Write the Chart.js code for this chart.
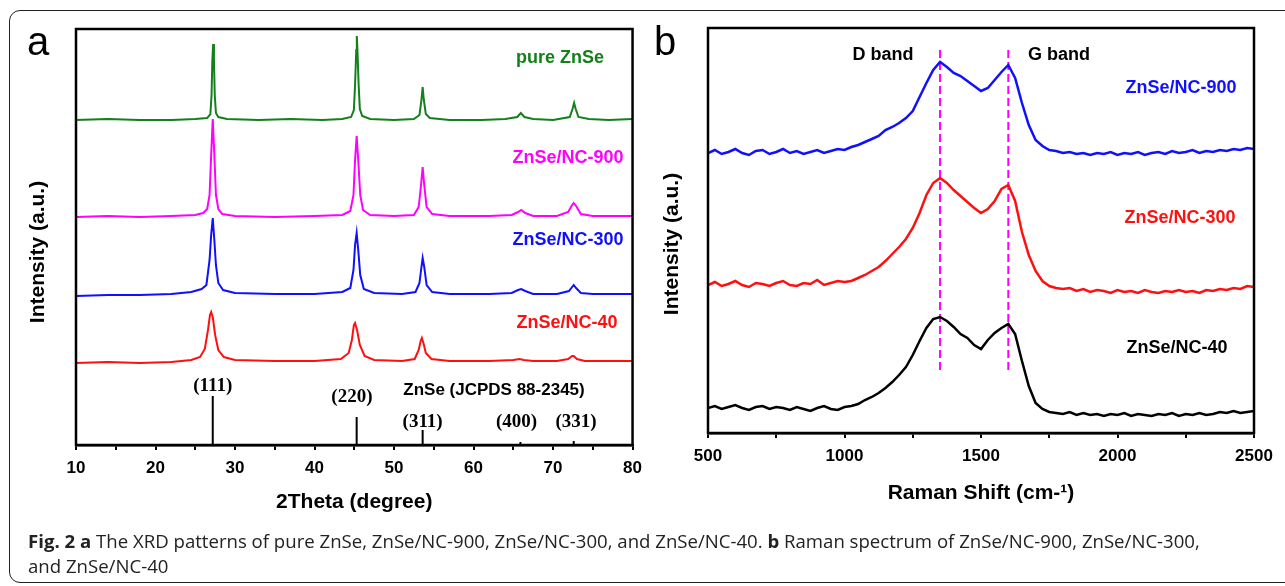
<!DOCTYPE html>
<html>
<head>
<meta charset="utf-8">
<script src="https://cdn.jsdelivr.net/npm/chart.js@4.4.1/dist/chart.umd.min.js"></script>
<style>
  body { margin: 0; background: #fff; width: 1285px; height: 586px; overflow: hidden; position: relative; }
  #frame { position: absolute; left: 9px; top: 10px; width: 1300px; height: 571px; border: 1.5px solid #222; border-radius: 11px; }
  #wrapA { position: absolute; left: 0; top: 0; width: 650px; height: 530px; }
  #wrapB { position: absolute; left: 650px; top: 0; width: 635px; height: 530px; }
  .panel { position: absolute; top: 21px; font: 40px "Liberation Sans", Arial, sans-serif; line-height: 1; color: #000; }
  #caption { position: absolute; left: 28px; top: 528px; font: 18.6px "Open Sans", "Noto Sans", sans-serif; line-height: 25px; color: #222; white-space: nowrap; }
</style>
</head>
<body>
<div id="frame"></div>
<div id="wrapA"><canvas id="xrdChart" width="650" height="530"></canvas></div>
<div id="wrapB"><canvas id="ramanChart" width="635" height="530"></canvas></div>
<div class="panel" style="left:27px">a</div>
<div class="panel" style="left:654px">b</div>
<div id="caption"><b>Fig. 2 a</b> The XRD patterns of pure ZnSe, ZnSe/NC-900, ZnSe/NC-300, and ZnSe/NC-40. <b>b</b> Raman spectrum of ZnSe/NC-900, ZnSe/NC-300,<br>and ZnSe/NC-40</div>

<script>
// ---- panel a: XRD patterns (stacked, arbitrary units) ----
const pureX = [10, 14, 18, 22, 25, 26.5, 26.9, 27.05, 27.15, 27.25, 27.35, 27.45, 27.6, 27.9, 29, 33, 37, 41, 43.5, 44.6, 44.95, 45.1, 45.25, 45.32, 45.4, 45.55, 45.7, 46, 47, 50, 52.5, 53.2, 53.45, 53.6, 53.75, 54, 54.5, 57, 61, 64, 65.5, 65.95, 66.4, 67.5, 70, 72.1, 72.45, 72.65, 72.85, 73.2, 74.5, 77, 80];
const pureY = [325, 326, 325, 325, 326, 327, 331, 350, 385, 401, 385, 350, 332, 328, 326, 325, 326, 325, 326, 328, 335, 360, 395, 409, 395, 360, 336, 329, 326, 325, 326, 330, 345, 358, 345, 331, 327, 325, 325, 326, 328, 332, 328, 326, 325, 328, 336, 342, 336, 328, 326, 325, 326];

const nc900X = [10, 14, 18, 22, 25, 26.0, 26.5, 26.8, 27.0, 27.2, 27.4, 27.6, 27.9, 28.4, 30, 35, 40, 43.5, 44.5, 44.9, 45.1, 45.3, 45.5, 45.75, 46.1, 47, 50, 52.5, 53.1, 53.4, 53.6, 53.8, 54.1, 54.8, 57, 62, 64.8, 65.6, 66, 66.5, 67.5, 70.5, 71.9, 72.4, 72.6, 72.9, 73.5, 75, 80];
const nc900Y = [228, 229, 228, 229, 230, 232, 236, 250, 290, 326, 290, 250, 236, 231, 229, 228, 229, 230, 234, 250, 285, 309, 285, 250, 235, 230, 229, 230, 238, 260, 278, 260, 238, 231, 229, 229, 230, 233, 235, 232, 229, 229, 233, 240, 242, 239, 231, 229, 229];

const nc300X = [10, 14, 18, 22, 24.5, 25.8, 26.4, 26.8, 27.0, 27.2, 27.4, 27.6, 27.9, 28.5, 30, 35, 40, 43.5, 44.5, 44.9, 45.1, 45.3, 45.5, 45.75, 46.2, 47.5, 51, 52.7, 53.2, 53.45, 53.6, 53.8, 54.1, 54.8, 57, 62, 64.8, 65.6, 66, 66.5, 67.5, 70.5, 72.0, 72.4, 72.6, 72.9, 73.5, 75, 80];
const nc300Y = [149, 150, 150, 151, 153, 156, 160, 185, 210, 227, 205, 180, 162, 155, 152, 151, 151, 153, 157, 175, 200, 212, 195, 170, 156, 152, 151, 153, 162, 178, 187, 178, 160, 153, 151, 151, 152, 155, 156, 154, 151, 151, 154, 158, 160, 157, 152, 151, 151];

const nc40X = [10, 14, 18, 22, 24.5, 25.6, 26.2, 26.6, 26.85, 27.0, 27.2, 27.5, 27.9, 28.6, 30, 35, 40, 43.3, 44.3, 44.7, 44.95, 45.1, 45.35, 45.7, 46.3, 47.5, 51, 52.6, 53.1, 53.35, 53.5, 53.7, 54.0, 54.7, 57, 62, 65, 65.8, 66.3, 67.5, 70.5, 71.9, 72.4, 72.6, 73.0, 74, 80];
const nc40Y = [82, 83, 82, 83, 85, 88, 96, 115, 130, 133, 128, 110, 95, 88, 85, 84, 84, 86, 92, 105, 120, 122, 115, 100, 89, 85, 84, 86, 95, 104, 107, 102, 92, 86, 84, 84, 85, 86, 85, 84, 84, 86, 89, 89, 86, 84, 84];

// reference pattern ZnSe (JCPDS 88-2345)
const jcpdsPos = [27.2, 45.3, 53.6, 65.9, 72.6];
const jcpdsInt = [49, 28, 15, 3, 4];
const jcpdsHkl = ["(111)", "(220)", "(311)", "(400)", "(331)"];

// ---- panel b: Raman spectra ----
const ramanShift = [500, 525, 550, 575, 600, 625, 650, 675, 700, 725, 750, 775, 800, 825, 850, 875, 900, 925, 950, 975,
  1000, 1025, 1050, 1075, 1100, 1125, 1150, 1175, 1200, 1225, 1250, 1275, 1300, 1325, 1350, 1375, 1400, 1425, 1450, 1475,
  1500, 1525, 1550, 1575, 1600, 1625, 1650, 1675, 1700, 1725, 1750, 1775, 1800, 1825, 1850, 1875, 1900, 1925, 1950, 1975,
  2000, 2025, 2050, 2075, 2100, 2125, 2150, 2175, 2200, 2225, 2250, 2275, 2300, 2325, 2350, 2375, 2400, 2425, 2450, 2475, 2500];
const raman900 = [280, 283, 279, 281, 284, 280, 278, 282, 283, 279, 281, 284, 280, 282, 279, 281, 283, 280, 282, 284,
  283, 286, 288, 291, 294, 297, 303, 306, 310, 315, 322, 336, 350, 363, 371, 366, 360, 357, 352, 347,
  342, 345, 353, 361, 368, 355, 330, 308, 293, 287, 283, 282, 280, 281, 279, 280, 278, 280, 279, 281,
  278, 280, 279, 281, 278, 280, 281, 279, 282, 280, 281, 283, 280, 282, 281, 283, 282, 284, 283, 285, 284];
const raman300 = [148, 151, 147, 149, 152, 148, 146, 150, 149, 147, 150, 152, 148, 147, 150, 149, 153, 148, 150, 152,
  151, 152, 155, 158, 162, 166, 172, 179, 186, 194, 205, 220, 238, 250, 255, 250, 243, 237, 231, 225,
  220, 224, 232, 244, 248, 232, 201, 178, 162, 152, 147, 145, 144, 145, 142, 144, 141, 143, 142, 140,
  143, 141, 142, 140, 143, 141, 140, 142, 141, 143, 141, 142, 140, 143, 142, 144, 143, 145, 144, 147, 146];
const raman40 = [25, 27, 24, 26, 28, 25, 23, 26, 27, 24, 26, 25, 23, 26, 24, 22, 25, 27, 24, 23,
  26, 27, 29, 33, 36, 40, 45, 51, 58, 66, 78, 92, 105, 114, 116, 112, 106, 99, 95, 88,
  84, 93, 100, 105, 109, 99, 72, 47, 30, 24, 21, 20, 19, 21, 18, 20, 18, 19, 17, 19,
  18, 20, 17, 19, 18, 17, 19, 18, 20, 17, 19, 18, 20, 18, 19, 21, 20, 22, 20, 21, 22];
const bandPos = [1350, 1600];
const bandSpan = [63, 385];

const SANS = "'Liberation Sans', Arial, sans-serif";
const toPts = (xs, ys) => xs.map((x, i) => ({ x: x, y: ys[i] }));
const line = (data, color, extra) => Object.assign({ data: data, borderColor: color, borderWidth: 2, pointRadius: 0, tension: 0, fill: false }, extra || {});

// draws the plot box, in-plot labels and the rotated y title
const decor = {
  id: "decor",
  afterDraw(chart, args, opts) {
    const { ctx, chartArea: a } = chart;
    ctx.save();
    ctx.strokeStyle = "#000";
    ctx.lineWidth = 2.5;
    ctx.strokeRect(a.left, a.top, a.right - a.left, a.bottom - a.top);
    ctx.textAlign = "center";
    ctx.textBaseline = "middle";
    for (const t of opts.texts) {
      ctx.font = t.font;
      ctx.fillStyle = t.color;
      const x = t.xv !== undefined ? chart.scales.x.getPixelForValue(t.xv) : t.x;
      ctx.fillText(t.text, x, t.y);
    }
    ctx.translate(opts.yTitle.x, opts.yTitle.y);
    ctx.rotate(-Math.PI / 2);
    ctx.font = "bold 21px " + SANS;
    ctx.fillStyle = "#000";
    ctx.fillText("Intensity (a.u.)", 0, 0);
    ctx.restore();
  }
};

function xScale(min, max, step, major, title, height, titlePad) {
  return {
    type: "linear", min: min, max: max,
    afterFit: s => { s.height = height; },
    ticks: {
      stepSize: step, autoSkip: false, maxRotation: 0, padding: 8, color: "#000",
      font: { family: SANS, size: 17, weight: "bold" },
      callback: v => (v % major === 0 ? v : "")
    },
    grid: { drawOnChartArea: false, drawTicks: true, tickLength: 5, color: "#000", lineWidth: 2 },
    border: { display: true, color: "#000", width: 2.5 },
    title: { display: true, text: title, color: "#000", padding: { top: 0, bottom: titlePad }, font: { family: SANS, size: 21, weight: "bold" } }
  };
}

const common = {
  responsive: false,
  animation: false,
  plugins: { legend: { display: false }, tooltip: { enabled: false } }
};

const hklTexts = jcpdsHkl.map((h, i) => ({
  text: h, xv: jcpdsPos[i] + [0, -0.6, 0, -0.5, 0.3][i], y: [386, 397, 422, 422, 422][i],
  font: "bold 19px 'Liberation Serif', 'Times New Roman', serif", color: "#000"
}));

new Chart(document.getElementById("xrdChart").getContext("2d"), {
  type: "line",
  data: {
    datasets: [
      line(toPts(pureX, pureY), "#13801a"),
      line(toPts(nc900X, nc900Y), "#ff00ff"),
      line(toPts(nc300X, nc300Y), "#1010ff"),
      line(toPts(nc40X, nc40Y), "#ff1010"),
      line(jcpdsPos.flatMap((p, i) => [{ x: p, y: 0 }, { x: p, y: jcpdsInt[i] }, { x: p, y: null }]), "#000", { spanGaps: false })
    ]
  },
  options: Object.assign({}, common, {
    layout: { padding: { left: 76, top: 29, right: 13, bottom: 0 } },
    scales: {
      x: xScale(10, 80, 5, 10, "2Theta (degree)", 85, 15),
      y: { display: false, min: 0, max: 416 }
    },
    plugins: Object.assign({}, common.plugins, {
      decor: {
        yTitle: { x: 38, y: 252 },
        texts: [
          { text: "pure ZnSe", x: 560, y: 58, font: "bold 18px " + SANS, color: "#13801a" },
          { text: "ZnSe/NC-900", x: 568, y: 158, font: "bold 18px " + SANS, color: "#ff00ff" },
          { text: "ZnSe/NC-300", x: 568, y: 240, font: "bold 18px " + SANS, color: "#1010ff" },
          { text: "ZnSe/NC-40", x: 567, y: 323, font: "bold 18px " + SANS, color: "#ff1010" },
          { text: "ZnSe (JCPDS 88-2345)", x: 494, y: 390, font: "bold 17px " + SANS, color: "#000" }
        ].concat(hklTexts)
      }
    })
  }),
  plugins: [decor]
});

new Chart(document.getElementById("ramanChart").getContext("2d"), {
  type: "line",
  data: {
    datasets: [
      line(toPts(ramanShift, raman900), "#1010ff", { borderWidth: 2.5 }),
      line(toPts(ramanShift, raman300), "#ff1010", { borderWidth: 2.5 }),
      line(toPts(ramanShift, raman40), "#000", { borderWidth: 2.5 }),
      line([{ x: bandPos[0], y: bandSpan[0] }, { x: bandPos[0], y: bandSpan[1] }], "#ff00ff", { borderDash: [8, 4] }),
      line([{ x: bandPos[1], y: bandSpan[0] }, { x: bandPos[1], y: bandSpan[1] }], "#ff00ff", { borderDash: [8, 4] })
    ]
  },
  options: Object.assign({}, common, {
    layout: { padding: { left: 58, top: 28, right: 31, bottom: 0 } },
    scales: {
      x: xScale(500, 2500, 250, 500, "Raman Shift (cm-¹)", 97, 24),
      y: { display: false, min: 0, max: 405 }
    },
    plugins: Object.assign({}, common.plugins, {
      decor: {
        yTitle: { x: 22, y: 244 },
        texts: [
          { text: "D band", x: 233, y: 55, font: "bold 18px " + SANS, color: "#000" },
          { text: "G band", x: 409, y: 55, font: "bold 18px " + SANS, color: "#000" },
          { text: "ZnSe/NC-900", x: 531, y: 88, font: "bold 18px " + SANS, color: "#1010ff" },
          { text: "ZnSe/NC-300", x: 530, y: 218, font: "bold 18px " + SANS, color: "#ff1010" },
          { text: "ZnSe/NC-40", x: 527, y: 348, font: "bold 18px " + SANS, color: "#000" }
        ]
      }
    })
  }),
  plugins: [decor]
});
</script>
</body>
</html>
